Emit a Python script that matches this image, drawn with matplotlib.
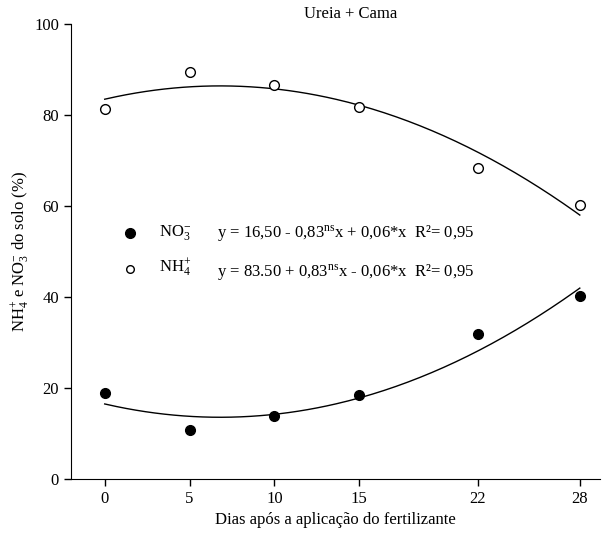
import numpy as np
import matplotlib
matplotlib.use("Agg")
import matplotlib.pyplot as plt

plt.rcParams["font.family"] = ["Liberation Serif", "DejaVu Serif"]
plt.rcParams["mathtext.fontset"] = "custom"
plt.rcParams["mathtext.rm"] = "Liberation Serif"
plt.rcParams["mathtext.it"] = "Liberation Serif:italic"
plt.rcParams["mathtext.bf"] = "Liberation Serif:bold"

# data
dias = [0, 5, 10, 15, 22, 28]
no3 = [18.9, 10.8, 13.8, 18.5, 31.8, 40.2]
nh4 = [81.3, 89.5, 86.6, 81.8, 68.4, 60.2]

# quadratic fits (coefficients a, b, c)
no3_fit = [16.5, -0.86, 0.0632]
nh4_fit = [83.5, 0.86, -0.0632]

xticks = [0, 5, 10, 15, 22, 28]
yticks = [0, 20, 40, 60, 80, 100]

FS = 12

fig = plt.figure(figsize=(6.05, 5.37), dpi=100)
ax = fig.add_axes([0.117, 0.108, 0.875, 0.847])

xs = np.linspace(0, 28, 200)
for coef in (no3_fit, nh4_fit):
    ax.plot(xs, coef[0] + coef[1] * xs + coef[2] * xs ** 2,
            color="black", linewidth=1.0)

ax.plot(dias, no3, "o", color="black", markersize=7, linestyle="none")
ax.plot(dias, nh4, "o", markerfacecolor="white", markeredgecolor="black",
        markeredgewidth=1.0, markersize=7, linestyle="none")

# legend drawn by hand
ax.plot([1.47], [54.1], "o", color="black", markersize=7)
ax.plot([1.47], [46.2], "o", markerfacecolor="white",
        markeredgecolor="black", markersize=5.5)
ax.text(3.2, 54.1, r"NO$_\mathrm{3}^\mathrm{-}$", fontsize=FS, va="center")
ax.text(3.2, 46.4, r"NH$_\mathrm{4}^\mathrm{+}$", fontsize=FS, va="center")
ax.text(6.6, 54.1, r"y = 16,50 - 0,83$^\mathrm{ns}$x + 0,06*x  R²= 0,95",
        fontsize=FS, va="center")
ax.text(6.6, 45.6, r"y = 83.50 + 0,83$^\mathrm{ns}$x - 0,06*x  R²= 0,95",
        fontsize=FS, va="center")

ax.text(14.5, 102.2, "Ureia + Cama", fontsize=FS, ha="center", va="center",
        clip_on=False)

ax.set_xlim(-2, 29.2)
ax.set_ylim(0, 100)
ax.set_xticks(xticks)
ax.set_yticks(yticks)
ax.tick_params(direction="out", length=5, width=1, labelsize=FS)
ax.spines["top"].set_visible(False)
ax.spines["right"].set_visible(False)

ax.set_xlabel("Dias após a aplicação do fertilizante", fontsize=FS)
ax.set_ylabel(r"NH$_\mathrm{4}^\mathrm{+}$ e NO$_\mathrm{3}^\mathrm{-}$ do solo (%)",
              fontsize=FS)
ax.yaxis.set_label_coords(-0.074, 0.5)

fig.savefig("out.png", dpi=100)
